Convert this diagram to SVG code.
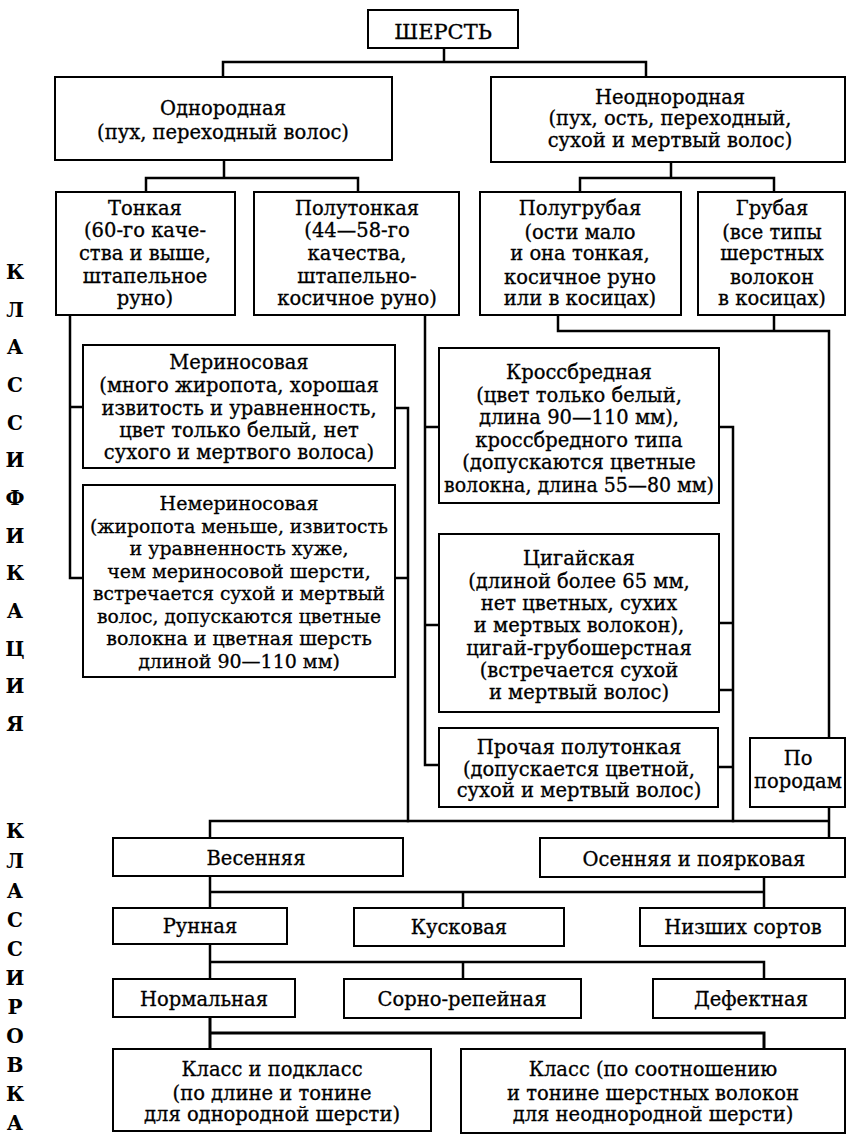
<svg xmlns="http://www.w3.org/2000/svg" width="846" height="1136" viewBox="0 0 846 1136">
<style>
.b{fill:#fff;stroke:#000;stroke-width:2}
.c{fill:none;stroke:#000;stroke-width:2.5;stroke-linejoin:miter;stroke-linecap:square}
text{font-family:"DejaVu Serif","Liberation Serif",serif;font-size:19.5px;text-anchor:middle;fill:#000;stroke:#000;stroke-width:0.3}
.v{font-size:20px;font-weight:bold;stroke-width:0}
.s{font-size:19px}
</style>
<rect x="0" y="0" width="846" height="1136" fill="#fff"/>
<g id="connectors">
<path class="c" d="M444 48V62M223 77V62H646V77"/>
<path class="c" d="M224 160V178M146 192V178H358V192"/>
<path class="c" d="M671 162V178M580 192V178H774V192"/>
<path class="c" d="M70 315V578H83M70 407H83"/>
<path class="c" d="M395 408H408V821M395 578H408"/>
<path class="c" d="M425 315V765H439M425 427H439M425 625H439"/>
<path class="c" d="M719 427H733V821M719 623H733M719 690H733M718 767H733"/>
<path class="c" d="M558 315V331H829V738M774 315V331"/>
<path class="c" d="M829 807V838M210 838V821H829"/>
<path class="c" d="M210 876V908M764 877V908M210 892H764M463 892V908"/>
<path class="c" d="M210 944V979M210 962H764V979M463 962V979"/>
<path class="c" d="M210 1017V1049M210 1033H764V1049" style="stroke-width:3"/>
</g>
<g id="label-left">
<text class="v" x="15" y="279">К</text>
<text class="v" x="15" y="317">Л</text>
<text class="v" x="15" y="354">А</text>
<text class="v" x="15" y="392">С</text>
<text class="v" x="15" y="430">С</text>
<text class="v" x="15" y="467">И</text>
<text class="v" x="15" y="505">Ф</text>
<text class="v" x="15" y="543">И</text>
<text class="v" x="15" y="580">К</text>
<text class="v" x="15" y="618">А</text>
<text class="v" x="15" y="656">Ц</text>
<text class="v" x="15" y="693">И</text>
<text class="v" x="15" y="731">Я</text>
<text class="v" x="15" y="838">К</text>
<text class="v" x="15" y="868">Л</text>
<text class="v" x="15" y="898">А</text>
<text class="v" x="15" y="927">С</text>
<text class="v" x="15" y="956">С</text>
<text class="v" x="15" y="985">И</text>
<text class="v" x="15" y="1014">Р</text>
<text class="v" x="15" y="1043">О</text>
<text class="v" x="15" y="1072">В</text>
<text class="v" x="15" y="1101">К</text>
<text class="v" x="15" y="1130">А</text>
</g>
<g id="n-sherst"><rect class="b" x="368" y="10" width="150" height="38"/><text x="443" y="39" style="font-size:21px">ШЕРСТЬ</text></g>
<g id="n-odnorodnaya"><rect class="b" x="55" y="77" width="337" height="83"/>
<text x="223" y="115">Однородная</text><text x="223" y="139">(пух, переходный волос)</text></g>
<g id="n-neodnorodnaya"><rect class="b" x="491" y="77" width="354" height="85"/>
<text x="670" y="104">Неоднородная</text><text x="670" y="125">(пух, ость, переходный,</text><text x="670" y="147">сухой и мертвый волос)</text></g>
<g id="n-tonkaya"><rect class="b" x="56" y="192" width="179" height="123"/>
<text x="145" y="215">Тонкая</text><text x="145" y="237">(60-го каче-</text><text x="145" y="260">ства и выше,</text><text x="145" y="283">штапельное</text><text x="145" y="305">руно)</text></g>
<g id="n-polutonkaya"><rect class="b" x="254" y="192" width="205" height="123"/>
<text x="357" y="215">Полутонкая</text><text x="357" y="237">(44—58-го</text><text x="357" y="260">качества,</text><text x="357" y="283">штапельно-</text><text x="357" y="305">косичное руно)</text></g>
<g id="n-polugrubaya"><rect class="b" x="480" y="192" width="201" height="123"/>
<text x="580" y="215">Полугрубая</text><text x="580" y="239">(ости мало</text><text x="580" y="260">и она тонкая,</text><text x="580" y="284">косичное руно</text><text x="580" y="305">или в косицах)</text></g>
<g id="n-grubaya"><rect class="b" x="698" y="192" width="147" height="123"/>
<text x="772" y="215">Грубая</text><text x="772" y="239">(все типы</text><text x="772" y="260">шерстных</text><text x="772" y="284">волокон</text><text x="772" y="305">в косицах)</text></g>
<g id="n-merinos"><rect class="b" x="83" y="345" width="312" height="123"/>
<text x="239" y="369">Мериносовая</text><text x="239" y="392">(много жиропота, хорошая</text><text x="239" y="415">извитость и уравненность,</text><text x="239" y="437">цвет только белый, нет</text><text x="239" y="459">сухого и мертвого волоса)</text></g>
<g id="n-nemerinos" class="s"><rect class="b" x="83" y="485" width="312" height="192"/>
<text class="s" x="239" y="510">Немериносовая</text><text class="s" x="239" y="533" textLength="298" lengthAdjust="spacingAndGlyphs">(жиропота меньше, извитость</text><text class="s" x="239" y="555">и уравненность хуже,</text><text class="s" x="239" y="578">чем мериносовой  шерсти,</text><text class="s" x="239" y="600" textLength="292" lengthAdjust="spacingAndGlyphs">встречается сухой и мертвый</text><text class="s" x="239" y="623" textLength="284" lengthAdjust="spacingAndGlyphs">волос, допускаются цветные</text><text class="s" x="239" y="645">волокна и цветная шерсть</text><text class="s" x="239" y="668">длиной 90—110 мм)</text></g>
<g id="n-krossbred"><rect class="b" x="439" y="348" width="280" height="155"/>
<text x="579" y="379">Кроссбредная</text><text x="579" y="402">(цвет только белый,</text><text x="579" y="424">длина 90—110 мм),</text><text x="579" y="447">кроссбредного типа</text><text x="579" y="469">(допускаются цветные</text><text x="579" y="492" textLength="270" lengthAdjust="spacingAndGlyphs">волокна, длина 55—80 мм)</text></g>
<g id="n-tsigai"><rect class="b" x="439" y="534" width="280" height="178"/>
<text x="579" y="565">Цигайская</text><text x="579" y="588">(длиной более 65 мм,</text><text x="579" y="610">нет цветных, сухих</text><text x="579" y="632">и мертвых волокон),</text><text x="579" y="655">цигай-грубошерстная</text><text x="579" y="677">(встречается сухой</text><text x="579" y="699">и мертвый волос)</text></g>
<g id="n-prochaya"><rect class="b" x="439" y="728" width="279" height="79"/>
<text x="579" y="754">Прочая полутонкая</text><text x="579" y="776">(допускается цветной,</text><text x="579" y="797">сухой и мертвый волос)</text></g>
<g id="n-po-porodam"><rect class="b" x="750" y="738" width="95" height="69"/>
<text x="798" y="765">По</text><text x="798" y="788">породам</text></g>
<g id="n-vesennyaya"><rect class="b" x="113" y="838" width="290" height="38"/><text x="256" y="865">Весенняя</text></g>
<g id="n-osennyaya"><rect class="b" x="540" y="838" width="305" height="39"/><text x="694" y="866">Осенняя и поярковая</text></g>
<g id="n-runnaya"><rect class="b" x="113" y="908" width="174" height="36"/><text x="200" y="933">Рунная</text></g>
<g id="n-kuskovaya"><rect class="b" x="354" y="908" width="210" height="38"/><text x="459" y="934">Кусковая</text></g>
<g id="n-nizshih"><rect class="b" x="640" y="908" width="205" height="38"/><text x="743" y="934">Низших сортов</text></g>
<g id="n-normalnaya"><rect class="b" x="113" y="979" width="182" height="38"/><text x="204" y="1006">Нормальная</text></g>
<g id="n-sorno"><rect class="b" x="344" y="979" width="237" height="39"/><text x="462" y="1006">Сорно-репейная</text></g>
<g id="n-defektnaya"><rect class="b" x="653" y="979" width="192" height="39"/><text x="751" y="1006">Дефектная</text></g>
<g id="n-klass1"><rect class="b" x="113" y="1049" width="318" height="82"/>
<text x="272" y="1076">Класс и подкласс</text><text x="272" y="1100">(по длине и тонине</text><text x="272" y="1121">для однородной шерсти)</text></g>
<g id="n-klass2"><rect class="b" x="461" y="1049" width="384" height="84"/>
<text x="653" y="1076">Класс (по соотношению</text><text x="653" y="1100">и тонине шерстных волокон</text><text x="653" y="1121">для неоднородной шерсти)</text></g>
</svg>
